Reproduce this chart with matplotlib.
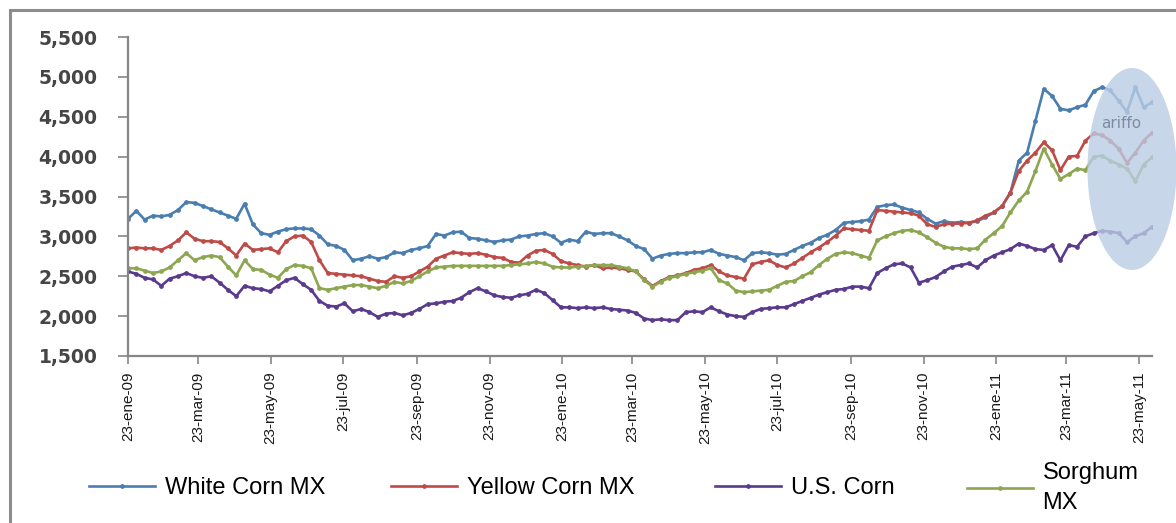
import matplotlib
matplotlib.use("Agg")
import matplotlib.pyplot as plt
from matplotlib.patches import Ellipse, Rectangle
from matplotlib.lines import Line2D
import pandas as pd

# weekly prices, first week 23-ene-09
start_date = "2009-01-23"

white_corn = [
    3220, 3320, 3210, 3260, 3250, 3270, 3330, 3430, 3420, 3380,
    3340, 3300, 3260, 3220, 3410, 3150, 3040, 3020, 3060, 3090,
    3100, 3100, 3090, 3010, 2900, 2880, 2830, 2700, 2720, 2750,
    2720, 2740, 2800, 2790, 2830, 2850, 2880, 3030, 3010, 3050,
    3060, 2980, 2970, 2950, 2930, 2950, 2960, 3000, 3010, 3030,
    3040, 3000, 2920, 2960, 2940, 3060, 3030, 3040, 3040, 3000,
    2950, 2880, 2840, 2720, 2760, 2780, 2790, 2790, 2800, 2800,
    2830, 2780, 2760, 2740, 2700, 2790, 2800, 2790, 2770, 2780,
    2830, 2880, 2920, 2980, 3020, 3080, 3170, 3180, 3190, 3210,
    3370, 3390, 3400, 3360, 3330, 3300, 3220, 3160, 3190, 3170,
    3180, 3170, 3190, 3240, 3300, 3380, 3550, 3950, 4050, 4450,
    4850, 4760, 4600, 4580, 4620, 4650, 4820, 4870, 4830, 4700,
    4560, 4870, 4620, 4680,
]
yellow_corn = [
    2850, 2860, 2850, 2850, 2830, 2880, 2950, 3050, 2970, 2940,
    2940, 2930, 2850, 2760, 2910, 2830, 2840, 2850, 2800, 2940,
    3000, 3010, 2930, 2700, 2540, 2530, 2520, 2510, 2500, 2470,
    2440, 2430, 2500, 2480, 2500, 2560, 2620, 2720, 2760, 2800,
    2790, 2780, 2790, 2770, 2740, 2730, 2680, 2670, 2760, 2820,
    2830, 2780, 2690, 2660, 2640, 2620, 2640, 2600, 2610, 2600,
    2580, 2560, 2460, 2380, 2440, 2490, 2510, 2540, 2580, 2600,
    2640, 2560, 2510, 2490, 2470, 2650, 2680, 2700, 2640, 2610,
    2660, 2730, 2800, 2860, 2930, 3010, 3100, 3090, 3080, 3070,
    3330, 3320, 3310, 3300, 3290, 3260, 3150, 3120, 3150, 3160,
    3160, 3170, 3200, 3260, 3300, 3380, 3550, 3820, 3950, 4050,
    4180, 4080, 3830, 4000, 4010, 4200, 4290, 4270, 4200, 4100,
    3920, 4050, 4200, 4300,
]
us_corn = [
    2560, 2530, 2480, 2460, 2380, 2470, 2500, 2540, 2500, 2480,
    2500, 2420, 2330, 2250, 2380, 2350, 2340, 2310, 2380, 2450,
    2480, 2400, 2330, 2190, 2130, 2120, 2160, 2060, 2090, 2050,
    1990, 2030, 2040, 2010, 2040, 2090, 2150, 2160, 2180, 2190,
    2230, 2300, 2350, 2310, 2260, 2240, 2230, 2260, 2280, 2330,
    2290, 2200, 2110, 2110, 2100, 2110, 2100, 2110, 2090, 2080,
    2070, 2040, 1970, 1950, 1960, 1950, 1950, 2050, 2060, 2050,
    2110, 2060, 2020, 2000, 1990, 2050, 2090, 2100, 2110, 2110,
    2150, 2190, 2230, 2270, 2300, 2330, 2340, 2370, 2370, 2350,
    2540, 2600, 2650, 2660, 2610, 2420, 2450, 2490, 2560, 2620,
    2640, 2660, 2610, 2700, 2760, 2800, 2840, 2910, 2880, 2840,
    2830, 2890, 2700, 2890, 2870, 3000, 3040, 3070, 3060, 3040,
    2930, 3000, 3040, 3120,
]
sorghum = [
    2600, 2600, 2570, 2540, 2560, 2610, 2700, 2790, 2700, 2740,
    2760, 2740, 2620, 2510, 2700, 2590, 2580, 2520, 2480, 2590,
    2640, 2630, 2600, 2350, 2330, 2350, 2370, 2390, 2390, 2370,
    2350, 2380, 2430, 2410, 2440, 2500, 2560, 2610, 2620, 2630,
    2630, 2630, 2630, 2630, 2630, 2630, 2640, 2650, 2660, 2680,
    2660, 2620, 2610, 2610, 2620, 2630, 2640, 2640, 2640, 2620,
    2600, 2560, 2450, 2370, 2430, 2480, 2500, 2530, 2550, 2570,
    2600, 2450, 2410, 2320, 2300, 2310, 2320, 2330, 2380, 2430,
    2440, 2500, 2550, 2640, 2720, 2780, 2800, 2790, 2760, 2730,
    2950, 3000, 3040, 3070, 3080, 3050, 2990, 2920, 2870, 2850,
    2850, 2840, 2850, 2960, 3040, 3130, 3300, 3450, 3560, 3820,
    4100, 3900, 3720, 3780, 3850, 3830, 4000, 4010, 3950, 3900,
    3850, 3690, 3900, 3990,
]

series_names = ["White Corn MX", "Yellow Corn MX", "U.S. Corn", "Sorghum\nMX"]
series_colors = ["#4A7EB0", "#BE4B48", "#5A3A8C", "#8DA650"]

tick_dates = [
    "2009-01-23", "2009-03-23", "2009-05-23", "2009-07-23", "2009-09-23",
    "2009-11-23", "2010-01-23", "2010-03-23", "2010-05-23", "2010-07-23",
    "2010-09-23", "2010-11-23", "2011-01-23", "2011-03-23", "2011-05-23",
]
tick_labels = [
    "23-ene-09", "23-mar-09", "23-may-09", "23-jul-09", "23-sep-09",
    "23-nov-09", "23-ene-10", "23-mar-10", "23-may-10", "23-jul-10",
    "23-sep-10", "23-nov-10", "23-ene-11", "23-mar-11", "23-may-11",
]
y_ticks = [1500, 2000, 2500, 3000, 3500, 4000, 4500, 5000, 5500]

dates = pd.date_range(start_date, periods=len(white_corn), freq="7D")
all_series = [white_corn, yellow_corn, us_corn, sorghum]

W, H = 1176, 523
fig = plt.figure(figsize=(W / 100, H / 100), dpi=100)
ax = fig.add_axes([128 / W, 1 - 356 / H, (1152 - 128) / W, (356 - 37) / H])

for vals, color in zip(all_series, series_colors):
    ax.plot(dates, vals, color=color, lw=1.9, marker="o", ms=2.4, mec=color)

ax.set_ylim(1500, 5500)
ax.set_xlim(dates[0], dates[-1])
ax.set_yticks(y_ticks)
ax.set_yticklabels([f"{v:,}" for v in y_ticks], fontfamily="DejaVu Sans",
                   fontsize=13.5, fontweight="bold", color="#454545")
ax.set_xticks(pd.to_datetime(tick_dates))
ax.set_xticklabels(tick_labels, rotation=90, fontfamily="Liberation Sans",
                   fontsize=11, color="#1a1a1a")
ax.tick_params(axis="y", length=7, width=1.2, color="#868686", pad=15)
ax.tick_params(axis="x", length=6, width=1.2, color="#868686", pad=5)
for side in ["top", "right"]:
    ax.spines[side].set_visible(False)
for side in ["left", "bottom"]:
    ax.spines[side].set_color("#868686")
    ax.spines[side].set_linewidth(1.6)

# shaded ellipse over the last weeks
ell = Ellipse((1132 / W, 1 - 169 / H), 89 / W, 202 / H, transform=fig.transFigure,
              facecolor="#bacce3", edgecolor="none", alpha=0.8)
fig.add_artist(ell)
fig.text(1121 / W, 1 - 123 / H, "ariffo", fontsize=11, color="#7d8ca3",
         ha="center", va="center")

# outer frame
fig.add_artist(Rectangle((10 / W, -0.1), 1.2, 1.1 - 10 / H, transform=fig.transFigure,
                         fill=False, edgecolor="#8c8c8c", lw=2.2))

# legend, one entry per slot
legend_x = [89, 391, 715, 967]
for name, color, lx in zip(series_names, series_colors, legend_x):
    h = Line2D([], [], color=color, lw=1.9, marker="o", ms=2.4, mec=color)
    leg = fig.legend([h], [name], loc="center left",
                     bbox_to_anchor=(lx / W, 1 - 488 / H),
                     frameon=False, borderpad=0, borderaxespad=0, handlelength=2.8,
                     handletextpad=0.4,
                     prop={"family": "Liberation Sans", "size": 17})
    for t in leg.get_texts():
        t.set_linespacing(1.45)

fig.savefig("out.png", dpi=100)
